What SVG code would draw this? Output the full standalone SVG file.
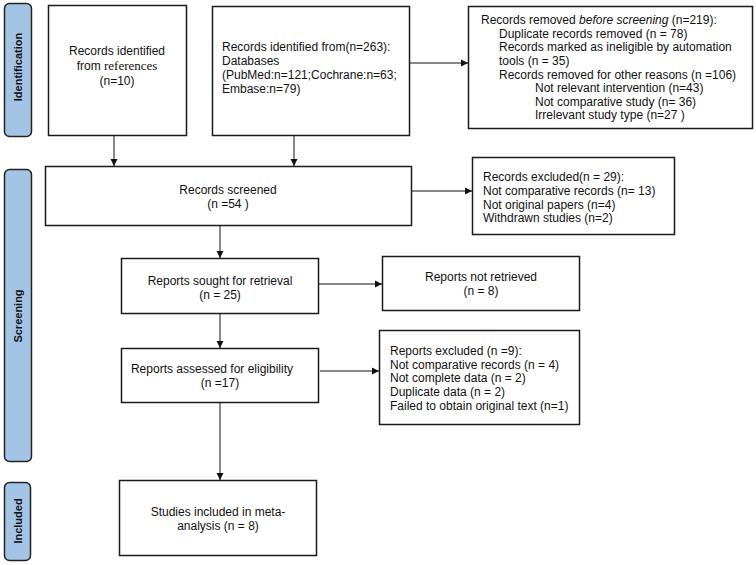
<svg xmlns="http://www.w3.org/2000/svg" width="756" height="565" viewBox="0 0 756 565">
<defs>
<style>
.box{fill:#fff;stroke:#1a1a1a;stroke-width:1.5}
.side{fill:#a4c4e6;stroke:#222;stroke-width:1.5}
.t{font-family:"Liberation Sans",Arial,sans-serif;font-size:12px;fill:#111}
.c{text-anchor:middle}
.lab{font-family:"Liberation Sans",Arial,sans-serif;font-size:11px;font-weight:bold;fill:#111;text-anchor:middle}
.ln{stroke:#111;stroke-width:1;fill:none}
</style>
<marker id="ah" markerWidth="8" markerHeight="8" refX="7" refY="4" orient="auto" markerUnits="userSpaceOnUse">
<path d="M0,0.5 L7,4 L0,7.5 Z" fill="#111"/>
</marker>
</defs>
<rect width="756" height="565" fill="#fff"/>

<g id="side-identification">
<rect class="side" x="4.5" y="3.5" width="27" height="133" rx="5"/>
<text class="lab" transform="translate(22,67) rotate(-90)">Identification</text>
</g>
<g id="side-screening">
<rect class="side" x="4.5" y="169.5" width="27" height="292" rx="5"/>
<text class="lab" transform="translate(22,316) rotate(-90)">Screening</text>
</g>
<g id="side-included">
<rect class="side" x="4.5" y="482.5" width="26" height="78" rx="5"/>
<text class="lab" transform="translate(22,521) rotate(-90)">Included</text>
</g>

<g id="n-references">
<rect class="box" x="48.5" y="5.5" width="138" height="130"/>
<text class="t c" x="117" y="55">Records identified</text>
<text class="t c" x="117" y="70">from <tspan font-family="'Liberation Serif','Times New Roman',serif" font-size="13px">references</tspan></text>
<text class="t c" x="117" y="85">(n=10)</text>
</g>

<g id="n-databases">
<rect class="box" x="212.5" y="6.5" width="197" height="129"/>
<text class="t" x="222" y="51">Records identified from(n=263):</text>
<text class="t" x="222" y="65">Databases</text>
<text class="t" x="222" y="79">(PubMed:n=121;Cochrane:n=63;</text>
<text class="t" x="222" y="93">Embase:n=79)</text>
</g>

<g id="n-removed">
<rect class="box" x="468.5" y="6.5" width="284" height="122"/>
<text class="t" x="481" y="24">Records removed <tspan font-style="italic">before screening</tspan> (n=219):</text>
<text class="t" x="499" y="38">Duplicate records removed  (n = 78)</text>
<text class="t" x="499" y="51">Records marked as ineligible by automation</text>
<text class="t" x="499" y="65">tools (n = 35)</text>
<text class="t" x="499" y="79">Records removed for other reasons (n =106)</text>
<text class="t" x="535" y="92">Not relevant intervention (n=43)</text>
<text class="t" x="535" y="106">Not comparative study (n= 36)</text>
<text class="t" x="535" y="119">Irrelevant study type (n=27 )</text>
</g>

<g id="n-screened">
<rect class="box" x="45.5" y="166.5" width="366" height="59"/>
<text class="t c" x="228" y="194">Records screened</text>
<text class="t c" x="228" y="208">(n =54 )</text>
</g>

<g id="n-excluded">
<rect class="box" x="472.5" y="157.5" width="202" height="77"/>
<text class="t" x="483" y="181">Records excluded(n = 29):</text>
<text class="t" x="483" y="195">Not comparative records (n= 13)</text>
<text class="t" x="483" y="209">Not original papers (n=4)</text>
<text class="t" x="483" y="222">Withdrawn studies (n=2)</text>
</g>

<g id="n-sought">
<rect class="box" x="121.5" y="258.5" width="197" height="55"/>
<text class="t c" x="220" y="285">Reports sought for retrieval</text>
<text class="t c" x="220" y="299">(n = 25)</text>
</g>

<g id="n-notretrieved">
<rect class="box" x="382.5" y="256.5" width="197" height="54"/>
<text class="t c" x="481" y="281">Reports not retrieved</text>
<text class="t c" x="481" y="295">(n = 8)</text>
</g>

<g id="n-assessed">
<rect class="box" x="121.5" y="348.5" width="197" height="54"/>
<text class="t c" x="212" y="373">Reports assessed for eligibility</text>
<text class="t c" x="220" y="387">(n =17)</text>
</g>

<g id="n-repexcluded">
<rect class="box" x="379.5" y="330.5" width="200" height="94"/>
<text class="t" x="390" y="355">Reports excluded (n =9):</text>
<text class="t" x="390" y="369">Not comparative records (n = 4)</text>
<text class="t" x="390" y="382">Not complete data (n = 2)</text>
<text class="t" x="390" y="396">Duplicate data (n = 2)</text>
<text class="t" x="390" y="410">Failed to obtain original text (n=1)</text>
</g>

<g id="n-included">
<rect class="box" x="119.5" y="480.5" width="197" height="75"/>
<text class="t c" x="218" y="516">Studies included in meta-</text>
<text class="t c" x="218" y="530">analysis (n = 8)</text>
</g>

<g id="connectors">
<line class="ln" x1="114" y1="136" x2="114" y2="166" marker-end="url(#ah)"/>
<line class="ln" x1="294" y1="136" x2="294" y2="166" marker-end="url(#ah)"/>
<line class="ln" x1="410" y1="63" x2="468" y2="63" marker-end="url(#ah)"/>
<line class="ln" x1="412" y1="191" x2="472" y2="191" marker-end="url(#ah)"/>
<line class="ln" x1="220" y1="226" x2="220" y2="258" marker-end="url(#ah)"/>
<line class="ln" x1="319" y1="284" x2="382" y2="284" marker-end="url(#ah)"/>
<line class="ln" x1="220" y1="314" x2="220" y2="348" marker-end="url(#ah)"/>
<line class="ln" x1="320" y1="371" x2="379" y2="371" marker-end="url(#ah)"/>
<line class="ln" x1="220" y1="403" x2="220" y2="480" marker-end="url(#ah)"/>
</g>
</svg>
